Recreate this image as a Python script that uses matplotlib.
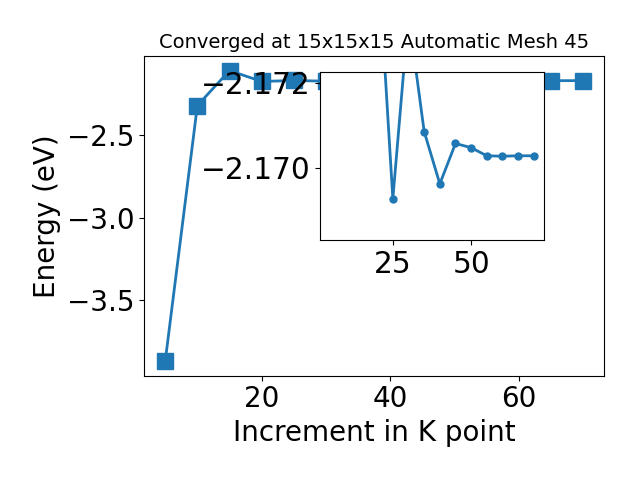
import numpy as np
import matplotlib
matplotlib.use("Agg")
import matplotlib.pyplot as plt

# k-point increments and total energies (eV)
kpoints = [5, 10, 15, 20, 25, 30, 35, 40, 45, 50, 55, 60, 65, 70]
energy = [-3.871, -2.321, -2.109, -2.1753, -2.16927, -2.1736, -2.17085,
          -2.16962, -2.17057, -2.17047, -2.17028, -2.17027, -2.17028, -2.17028]

# zoomed part shown in the inset starts at 20
start = 3
inset_yticks = [-2.172, -2.170]
inset_xticks = [25, 50]

fig = plt.figure(figsize=(6.4, 4.8), dpi=100)
ax = fig.add_axes([0.2255, 0.2173, 0.944 - 0.2255, 0.8833 - 0.2173])
ax.plot(kpoints, energy, marker='s', markersize=11, linewidth=2, color='#1f77b4')
ax.set_xlabel('Increment in K point', fontsize=20)
ax.set_ylabel('Energy (eV)', fontsize=20)
ax.set_title('Converged at 15x15x15 Automatic Mesh 45', fontsize=14)
ax.tick_params(labelsize=20)
ax.set_xticks([20, 40, 60])
ax.set_yticks([-3.5, -3.0, -2.5])

axins = fig.add_axes([0.5, 0.5, 0.35, 0.35])
axins.plot(kpoints[start:], energy[start:], marker='o', markersize=5,
           linewidth=2, color='#1f77b4')
axins.set_xlim(ax.get_xlim())
axins.set_ylim(-2.1683, -2.17225)
axins.set_xticks(inset_xticks)
axins.set_yticks(inset_yticks)
axins.set_yticklabels(['\u22122.172', '\u22122.170'])
axins.tick_params(labelsize=21.3)

fig.savefig('out.png', dpi=100)
